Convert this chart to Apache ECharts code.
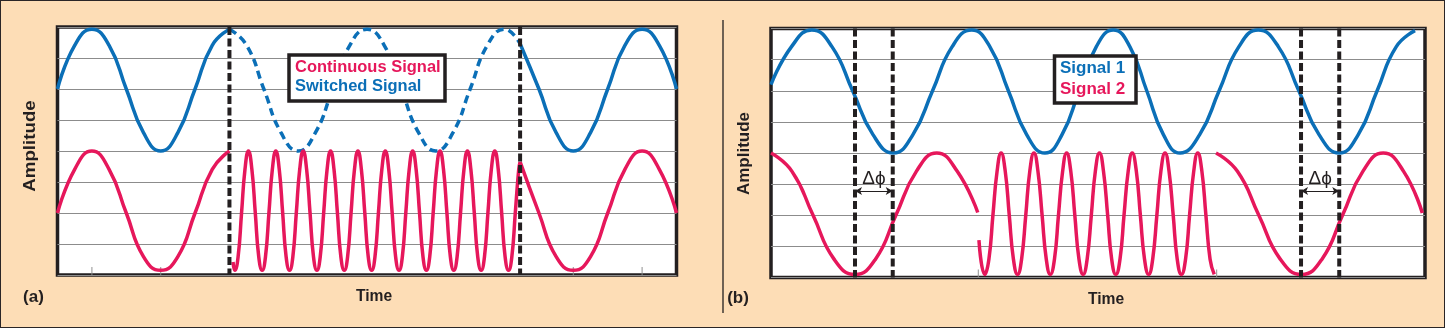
<!DOCTYPE html>
<html><head><meta charset="utf-8">
<script src="https://cdn.jsdelivr.net/npm/echarts@6/dist/echarts.min.js"></script>
<style>
html,body{margin:0;padding:0;background:#fff;}
#frame{position:absolute;left:0;top:0;width:1445px;height:328px;box-sizing:border-box;border:1.5px solid #2a2526;background:#FDDDB6;}
#chart{position:absolute;left:0;top:0;width:1452px;height:330px;}
</style></head><body>
<div id="frame"></div><div id="chart"></div>
<script>
// ---------- panel (a) data: [time, amplitude] ----------
const aBlueSolid1 = [[0,6],[0.125,7.41],[0.25,7.93],[0.375,7.41],[0.5,6],[0.625,4.59],[0.75,4],[0.875,4.59],[1,6],[1.125,7.41],[1.25,7.93]];
const aBlueDashed = [[1.25,7.93],[1.375,7.41],[1.5,6],[1.625,4.59],[1.75,4],[1.875,4.59],[2,6],[2.125,7.41],[2.25,7.93],[2.375,7.41],[2.5,6],[2.625,4.59],[2.75,4],[2.875,4.59],[3,6],[3.125,7.41],[3.25,7.93],[3.363,7.46]];
const aBlueSolid2 = [[3.363,7.46],[3.5,6],[3.625,4.59],[3.75,4],[3.875,4.59],[4,6],[4.125,7.41],[4.25,7.93],[4.375,7.41],[4.5,6]];
const aPinkSlow1 = [[0,2],[0.125,3.41],[0.25,4],[0.375,3.41],[0.5,2],[0.625,0.59],[0.75,0.15],[0.875,0.59],[1,2],[1.125,3.41],[1.25,4]];
const aPinkFast = [[1.276,0.42],[1.289,0.15],[1.313,0.59],[1.338,2],[1.363,3.41],[1.388,4],[1.413,3.41],[1.438,2],[1.463,0.59],
 [1.488,0.15],[1.512,0.59],[1.537,2],[1.562,3.41],[1.587,4],[1.612,3.41],[1.637,2],[1.662,0.59],
 [1.687,0.15],[1.711,0.59],[1.736,2],[1.761,3.41],[1.786,4],[1.811,3.41],[1.836,2],[1.861,0.59],
 [1.886,0.15],[1.910,0.59],[1.935,2],[1.960,3.41],[1.985,4],[2.010,3.41],[2.035,2],[2.060,0.59],
 [2.085,0.15],[2.109,0.59],[2.134,2],[2.159,3.41],[2.184,4],[2.209,3.41],[2.234,2],[2.259,0.59],
 [2.284,0.15],[2.308,0.59],[2.333,2],[2.358,3.41],[2.383,4],[2.408,3.41],[2.433,2],[2.458,0.59],
 [2.483,0.15],[2.507,0.59],[2.532,2],[2.557,3.41],[2.582,4],[2.607,3.41],[2.632,2],[2.657,0.59],
 [2.682,0.15],[2.706,0.59],[2.731,2],[2.756,3.41],[2.781,4],[2.806,3.41],[2.831,2],[2.856,0.59],
 [2.881,0.15],[2.905,0.59],[2.930,2],[2.955,3.41],[2.980,4],[3.005,3.41],[3.030,2],[3.055,0.59],
 [3.080,0.15],[3.104,0.59],[3.129,2],[3.154,3.41],[3.179,4],[3.204,3.41],[3.229,2],[3.254,0.59],
 [3.279,0.15],[3.303,0.59],[3.328,2],[3.353,3.41],[3.363,3.65]];
const aPinkSlow2 = [[3.363,3.65],[3.5,2],[3.625,0.59],[3.75,0.15],[3.875,0.59],[4,2],[4.125,3.41],[4.25,4],[4.375,3.41],[4.5,2]];
const aCuts = [1.25, 3.363];
const aTicks = [0.25, 0.75, 3.75, 4.25];

// ---------- panel (b) data ----------
const bBlue = [[0,6.2],[0.137,7.41],[0.274,7.95],[0.411,7.41],[0.549,6],[0.686,4.59],[0.823,4],[0.955,4.59],[1.087,6],[1.218,7.41],[1.35,7.95],
 [1.473,7.41],[1.597,6],[1.72,4.59],[1.843,4],[1.958,4.59],[2.073,6],[2.188,7.41],[2.303,7.95],[2.415,7.41],[2.528,6],[2.64,4.59],[2.752,4],
 [2.884,4.59],[3.015,6],[3.147,7.41],[3.278,7.95],[3.414,7.41],[3.551,6],[3.687,4.59],[3.823,4],[3.951,4.59],[4.078,6],[4.206,7.41],[4.333,7.93]];
const bPinkSlow1 = [[0,4],[0.141,3.41],[0.283,2],[0.424,0.59],[0.565,0.1],[0.703,0.59],[0.84,2],[0.978,3.41],[1.115,4],[1.253,3.41],[1.391,2.09]];
const bPinkFast = [[1.399,1.2],[1.438,0.1],[1.466,0.59],[1.493,2],[1.521,3.41],[1.548,4],[1.576,3.41],[1.603,2],[1.631,0.59],
 [1.659,0.1],[1.686,0.59],[1.714,2],[1.741,3.41],[1.769,4],[1.796,3.41],[1.824,2],[1.852,0.59],
 [1.879,0.1],[1.907,0.59],[1.934,2],[1.962,3.41],[1.989,4],[2.017,3.41],[2.044,2],[2.072,0.59],
 [2.100,0.1],[2.127,0.59],[2.155,2],[2.182,3.41],[2.210,4],[2.237,3.41],[2.265,2],[2.292,0.59],
 [2.320,0.1],[2.348,0.59],[2.375,2],[2.403,3.41],[2.430,4],[2.458,3.41],[2.485,2],[2.513,0.59],
 [2.541,0.1],[2.568,0.59],[2.596,2],[2.623,3.41],[2.651,4],[2.678,3.41],[2.706,2],[2.733,0.59],
 [2.761,0.1],[2.789,0.59],[2.816,2],[2.844,3.41],[2.871,4],[2.899,3.41],[2.926,2],[2.954,0.59],[2.982,0.1]];
const bPinkSlow2 = [[2.994,4],[3.138,3.41],[3.282,2],[3.426,0.59],[3.57,0.1],[3.707,0.59],[3.845,2],[3.982,3.41],[4.119,4],[4.256,3.41],[4.382,2.07]];
const bCuts = [0.565, 0.819, 3.566, 3.823];
const bTicks = [1.395, 2.998];
const bArrows = [[0.565, 0.819], [3.566, 3.823]];
const bArrowLevel = 2.78;

// ---------- texts ----------
const legendA = ['Continuous Signal', 'Switched Signal'];
const legendB = ['Signal 1', 'Signal 2'];
const yName = 'Amplitude', xName = 'Time', panelTags = ['(a)', '(b)'], phaseLabel = 'Δϕ';

const BLUE = '#0B6FB7', PINK = '#E6175B', INK = '#231F20', GRIDC = '#8C8C8C';
const FONT = '"Liberation Sans", Arial, "DejaVu Sans", sans-serif';

function curve(xi, data, color, dashed, z) {
  return { type: 'line', xAxisIndex: xi, yAxisIndex: xi, data, smooth: 0.5, symbol: 'none', silent: true,
    lineStyle: { color, width: 3.5, type: dashed ? [8, 5] : 'solid', cap: 'butt' }, z: z || 3 };
}
function cut(xi, x) {
  return { type: 'line', xAxisIndex: xi, yAxisIndex: xi, data: [[x, 8], [x, 0]], symbol: 'none', silent: true,
    lineStyle: { color: INK, width: 4, type: [8, 3.5] }, z: 6 };
}
function ticks(xi, xs) {
  return { type: 'scatter', xAxisIndex: xi, yAxisIndex: xi, data: xs.map(x => [x, 0]), symbol: 'rect',
    symbolSize: [1.2, 8], symbolOffset: [0, -4], itemStyle: { color: GRIDC }, silent: true, z: 2 };
}

const series = [
  ticks(0, aTicks), ticks(1, bTicks),
  curve(0, aBlueSolid1, BLUE), curve(0, aBlueDashed, BLUE, true), curve(0, aBlueSolid2, BLUE),
  curve(0, aPinkSlow1, PINK), curve(0, aPinkFast, PINK), curve(0, aPinkSlow2, PINK),
  curve(1, bBlue, BLUE), curve(1, bPinkSlow1, PINK), curve(1, bPinkFast, PINK), curve(1, bPinkSlow2, PINK),
  ...aCuts.map(x => cut(0, x)), ...bCuts.map(x => cut(1, x)),
  { type: 'line', xAxisIndex: 1, yAxisIndex: 1, data: bArrows.map(p => [p[0], bArrowLevel]), symbol: 'none',
    lineStyle: { opacity: 0 }, silent: true, z: 8,
    markLine: { silent: true, symbol: ['arrow', 'arrow'], symbolSize: [6, 7], animation: false,
      lineStyle: { color: INK, width: 1.2, type: 'solid' },
      label: { show: true, position: 'insideMiddleTop', formatter: phaseLabel, color: INK, fontSize: 19, fontFamily: FONT, distance: 3 },
      data: bArrows.map(p => [{ coord: [p[0], bArrowLevel] }, { coord: [p[1], bArrowLevel] }]) } }
];

const axisY = i => ({ type: 'value', gridIndex: i, min: 0, max: 8, interval: 1,
  axisLine: { show: false }, axisTick: { show: false }, axisLabel: { show: false },
  splitLine: { show: true, lineStyle: { color: GRIDC, width: 1 } } });

function txt(x, y, text, opts) {
  return Object.assign({ type: 'text', x, y, z: 50, silent: true,
    style: Object.assign({ text, align: 'center', verticalAlign: 'middle', fill: INK, font: 'bold 17px ' + FONT }, opts && opts.style || {}) },
    opts && opts.el || {});
}

const graphic = [
  { type: 'line', shape: { x1: 723, y1: 20, x2: 723, y2: 313 }, style: { stroke: INK, lineWidth: 1.3 }, z: 50, silent: true },
  { type: 'rect', shape: { x: 289, y: 55, width: 156, height: 46 }, style: { fill: '#fff', stroke: INK, lineWidth: 3.5 }, z: 40, silent: true },
  txt(295, 67, legendA[0], { style: { align: 'left', fill: PINK }, el: { scaleX: 0.97 } }),
  txt(295, 86.3, legendA[1], { style: { align: 'left', fill: BLUE }, el: { scaleX: 0.97 } }),
  { type: 'rect', shape: { x: 1054.5, y: 56, width: 81.5, height: 47 }, style: { fill: '#fff', stroke: INK, lineWidth: 3.5 }, z: 40, silent: true },
  txt(1060, 68.3, legendB[0], { style: { align: 'left', fill: BLUE } }),
  txt(1060, 89.3, legendB[1], { style: { align: 'left', fill: PINK } }),
  txt(30, 146, yName, { el: { rotation: Math.PI / 2, scaleX: 1.1 } }),
  txt(744.5, 153.5, yName, { el: { rotation: Math.PI / 2 } }),
  txt(374, 296.5, xName, { el: { scaleX: 0.92 } }),
  txt(1106, 299, xName, { el: { scaleX: 0.92 } }),
  txt(33.5, 297.5, panelTags[0]),
  txt(738, 298.5, panelTags[1])
];

const chart = echarts.init(document.getElementById('chart'), null, { renderer: 'canvas' });
chart.setOption({
  animation: false,
  grid: [
    { left: 57.5, top: 27, width: 619, height: 248, show: true, backgroundColor: '#fff', borderColor: INK, borderWidth: 3.5 },
    { left: 771, top: 28.5, width: 654, height: 249, show: true, backgroundColor: '#fff', borderColor: INK, borderWidth: 3.5 }
  ],
  xAxis: [
    { type: 'value', gridIndex: 0, min: 0, max: 4.5, show: false },
    { type: 'value', gridIndex: 1, min: 0, max: 4.4, show: false }
  ],
  yAxis: [axisY(0), axisY(1)],
  series,
  graphic
});
</script></body></html>
